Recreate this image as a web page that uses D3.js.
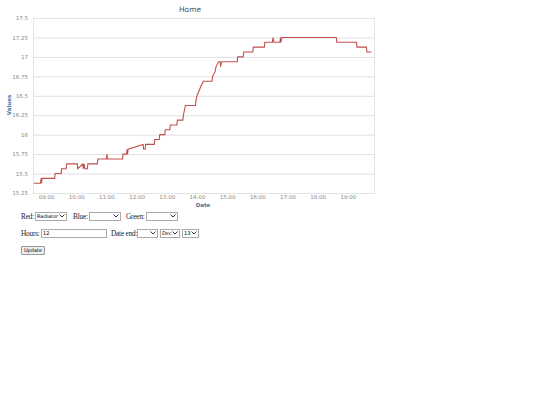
<!DOCTYPE html>
<html>
<head>
<meta charset="utf-8">
<script src="https://cdn.jsdelivr.net/npm/d3@7"></script>
<style>
  body { margin: 0; background: #fff; font-family: "Liberation Serif", serif; }
  #chart { position: absolute; left: 0; top: 0; }
  .row { position: absolute; left: 21px; font-size: 7.3px; letter-spacing: -0.2px; font-weight: normal; color: #222; white-space: nowrap; }
  .lbl { display: inline-block; vertical-align: middle; overflow: visible; }
  .row select, .row input, .row button {
    font-family: "DejaVu Sans", sans-serif; font-size: 5px; letter-spacing: 0; height: 9px; padding: 0 1px;
    margin: 0; vertical-align: middle; box-sizing: border-box; border: 1px solid #aaa; background: #fff;
  }
  .row select {
    -webkit-appearance: none; appearance: none; padding-right: 6px;
    background: #fff url("data:image/svg+xml;utf8,<svg xmlns='http://www.w3.org/2000/svg' width='6' height='4'><path d='M0.5 0.5 L3 3 L5.5 0.5' fill='none' stroke='%23333' stroke-width='1'/></svg>") no-repeat right 1px center;
  }
  .row button { height: 9px; background: #eee; border: 1px solid #999; border-radius: 1px; }
</style>
</head>
<body>
<svg id="chart"></svg>
<div class="row" style="top:211px"><span class="lbl" style="width:14px">Red:</span><select style="width:32px;margin-right:6px"><option>Radiator</option></select><span class="lbl" style="width:16px">Blue:</span><select style="width:32px;margin-right:5px"><option></option></select><span class="lbl" style="width:20px">Green:</span><select style="width:32px"><option></option></select></div>
<div class="row" style="top:228px"><span class="lbl" style="width:20px">Hours:</span><input type="text" value="12" style="width:66px;margin-right:4px"><span class="lbl" style="width:26px">Date end:</span><select style="width:21px;margin-right:2px"><option></option></select><select style="width:20px;margin-right:2px"><option>Dec</option></select><select style="width:17px"><option>13</option></select></div>
<div class="row" style="top:245px"><button style="width:24px">Update</button></div>
<script>
// readings (time of day, temperature)
const times = ["08:36","08:49","08:50","08:51","08:52","09:17","09:18","09:30","09:31","09:40","09:41",
  "10:02","10:03","10:13","10:14","10:16","10:17","10:22","10:23","10:42","10:43","11:00","11:01","11:02",
  "11:32","11:33","11:40","11:41","11:42","11:43","12:13","12:14","12:17","12:18","12:35","12:36",
  "12:45","12:46","12:56","12:57","13:06","13:07","13:20","13:21","13:32","13:33","13:35","13:37",
  "13:57","13:58","14:00","14:04","14:08","14:13","14:30","14:31","14:36","14:38","14:43","14:46",
  "14:47","14:49","14:51","15:20","15:21","15:32","15:33","15:51","15:52","16:14","16:15","16:30",
  "16:31","16:33","16:45","16:46","16:47","16:49","18:37","18:38","19:17","19:18","19:37","19:38","19:47"];
const values = [15.375,15.375,15.4375,15.375,15.4375,15.4375,15.5,15.5,15.5625,15.5625,15.625,
  15.625,15.5625,15.625,15.5625,15.625,15.5625,15.5625,15.625,15.625,15.6875,15.6875,15.75,15.6875,
  15.6875,15.75,15.75,15.8125,15.75,15.8125,15.875,15.8125,15.8125,15.875,15.875,15.9375,
  15.9375,16,16,16.0625,16.0625,16.125,16.125,16.1875,16.1875,16.25,16.3125,16.375,
  16.375,16.4375,16.5,16.5625,16.625,16.6875,16.6875,16.75,16.8125,16.875,16.9375,16.9375,
  16.875,16.9375,16.9375,16.9375,17,17,17.0625,17.0625,17.125,17.125,17.1875,17.1875,
  17.25,17.1875,17.1875,17.25,17.1875,17.25,17.25,17.1875,17.1875,17.125,17.125,17.0625,17.0625];
const yTicks = [15.25,15.5,15.75,16,16.25,16.5,16.75,17,17.25,17.5];
const xTicks = ["09:00","10:00","11:00","12:00","13:00","14:00","15:00","16:00","17:00","18:00","19:00"];

const parse = d3.timeParse("%H:%M");
const data = times.map((t, i) => ({ t: parse(t), v: values[i] }));

let width = 380;
let height = 210;
let plotLeft = 33, plotRight = 375, plotTop = 18, plotBottom = 193;

let svg = d3.select("#chart")
    .attr("width", width)
    .attr("height", height);

let xScale = d3.scaleTime()
    .domain([parse("08:34"), parse("19:54")])
    .range([plotLeft, plotRight]);

let yScale = d3.scaleLinear()
    .domain([15.25, 17.5])
    .range([plotBottom, plotTop]);

let yAxis = d3.axisLeft(yScale)
    .tickValues(yTicks)
    .tickSize(-(plotRight - plotLeft))
    .tickPadding(5)
    .tickFormat(d => d);

let xAxis = d3.axisBottom(xScale)
    .tickValues(xTicks.map(parse))
    .tickSize(0)
    .tickPadding(2)
    .tickFormat(d3.timeFormat("%H:%M"));

let gy = svg.append("g")
    .attr("transform", "translate(" + plotLeft + ",0)")
    .call(yAxis);
gy.select(".domain").remove();
gy.selectAll("line").attr("stroke", "#e0e0e0");
gy.selectAll("text")
    .attr("fill", "#888")
    .style("font-family", "DejaVu Sans, sans-serif")
    .style("font-size", "5.5px");

let gx = svg.append("g")
    .attr("transform", "translate(0," + plotBottom + ")")
    .call(xAxis);
gx.select(".domain").attr("stroke", "#c0d0e0");
gx.selectAll("text")
    .attr("fill", "#888")
    .attr("dy", "0.71em")
    .style("font-family", "DejaVu Sans, sans-serif")
    .style("font-size", "5.5px");

// plot frame
svg.append("rect")
    .attr("x", plotLeft + 0.5)
    .attr("y", plotTop + 0.5)
    .attr("width", plotRight - plotLeft - 1)
    .attr("height", plotBottom - plotTop)
    .attr("fill", "none")
    .attr("stroke", "#e4e4e4");

svg.append("path")
    .datum(data)
    .attr("fill", "none")
    .attr("stroke", "#c0504d")
    .attr("stroke-width", 1.1)
    .attr("d", d3.line().x(d => xScale(d.t)).y(d => yScale(d.v)));

svg.append("text")
    .attr("x", 190)
    .attr("y", 12)
    .attr("text-anchor", "middle")
    .attr("fill", "#3e576f")
    .style("font-family", "DejaVu Sans, sans-serif")
    .style("font-size", "7.5px")
    .text("Home");

svg.append("text")
    .attr("x", 203)
    .attr("y", 206.5)
    .attr("text-anchor", "middle")
    .attr("fill", "#4d759e")
    .style("font-family", "DejaVu Sans, sans-serif")
    .style("font-size", "5.5px")
    .style("font-weight", "bold")
    .text("Date");

svg.append("text")
    .attr("transform", "rotate(-90)")
    .attr("x", -105)
    .attr("y", 11)
    .attr("text-anchor", "middle")
    .attr("fill", "#4d759e")
    .style("font-family", "DejaVu Sans, sans-serif")
    .style("font-size", "5.5px")
    .style("font-weight", "bold")
    .text("Values");
</script>
</body>
</html>
